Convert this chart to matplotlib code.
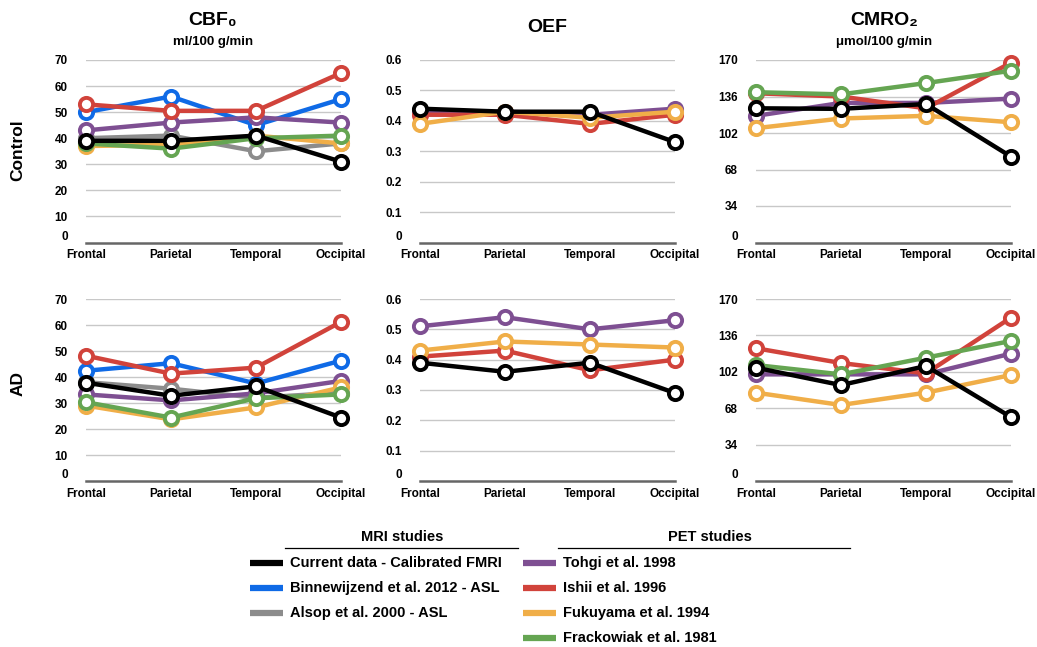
import numpy as np
import matplotlib.pyplot as plt
from matplotlib.lines import Line2D

plt.rcParams['font.family'] = ['Liberation Sans', 'DejaVu Sans']
plt.rcParams['font.weight'] = 'bold'

regions = ['Frontal', 'Parietal', 'Temporal', 'Occipital']

# series names / colours (draw order: first = bottom)
names = ['Alsop et al. 2000 - ASL', 'Binnewijzend et al. 2012 - ASL', 'Tohgi et al. 1998',
         'Ishii et al. 1996', 'Fukuyama et al. 1994', 'Frackowiak et al. 1981',
         'Current data - Calibrated FMRI']
colors = ['#8c8c8c', '#0f6ae6', '#7e4f92', '#d1433b', '#f0ae48', '#65a552', '#000000']

# CBF (ml/100 g/min)
cbf_ctrl = {
    'Alsop et al. 2000 - ASL': [40, 41, 35, 38],
    'Binnewijzend et al. 2012 - ASL': [50, 56, 45, 55],
    'Tohgi et al. 1998': [43, 46, 48, 46],
    'Ishii et al. 1996': [53, 50.5, 50.5, 65],
    'Fukuyama et al. 1994': [37, 37.5, 41, 38],
    'Frackowiak et al. 1981': [38, 36, 40, 41],
    'Current data - Calibrated FMRI': [39, 39, 41, 31],
}
cbf_ad = {
    'Alsop et al. 2000 - ASL': [38, 35.5, 32, 34],
    'Binnewijzend et al. 2012 - ASL': [42.4, 45.3, 37.5, 46.3],
    'Tohgi et al. 1998': [33.3, 31, 33.7, 38.5],
    'Ishii et al. 1996': [48.2, 41.3, 43.6, 61.2],
    'Fukuyama et al. 1994': [29, 23.7, 28.3, 36],
    'Frackowiak et al. 1981': [30.3, 24.4, 31.8, 33.3],
    'Current data - Calibrated FMRI': [37.8, 32.8, 36.4, 24.4],
}
# OEF
oef_ctrl = {
    'Tohgi et al. 1998': [0.43, 0.43, 0.42, 0.44],
    'Ishii et al. 1996': [0.42, 0.42, 0.39, 0.42],
    'Fukuyama et al. 1994': [0.39, 0.43, 0.41, 0.43],
    'Current data - Calibrated FMRI': [0.44, 0.43, 0.43, 0.33],
}
oef_ad = {
    'Tohgi et al. 1998': [0.51, 0.54, 0.50, 0.53],
    'Ishii et al. 1996': [0.41, 0.43, 0.365, 0.40],
    'Fukuyama et al. 1994': [0.43, 0.46, 0.45, 0.44],
    'Current data - Calibrated FMRI': [0.39, 0.36, 0.39, 0.29],
}
# CMRO2 (umol/100 g/min)
cmro2_ctrl = {
    'Tohgi et al. 1998': [118, 130, 130, 134],
    'Ishii et al. 1996': [139, 136, 125, 167.5],
    'Fukuyama et al. 1994': [106.5, 115.5, 118, 112],
    'Frackowiak et al. 1981': [140, 138, 148.5, 160],
    'Current data - Calibrated FMRI': [125, 124.5, 129, 80],
}
cmro2_ad = {
    'Tohgi et al. 1998': [99.6, 99.6, 99.6, 119],
    'Ishii et al. 1996': [124, 110.2, 100.5, 152.6],
    'Fukuyama et al. 1994': [82.5, 71, 82.5, 99],
    'Frackowiak et al. 1981': [108.3, 99.6, 115.2, 130.8],
    'Current data - Calibrated FMRI': [105.8, 89.6, 107.4, 59.7],
}

panels = [
    [(cbf_ctrl, 70, 10, '{:.0f}'), (oef_ctrl, 0.6, 0.1, '{:g}'), (cmro2_ctrl, 170, 34, '{:.0f}')],
    [(cbf_ad, 70, 10, '{:.0f}'), (oef_ad, 0.6, 0.1, '{:g}'), (cmro2_ad, 170, 34, '{:.0f}')],
]

fig = plt.figure(figsize=(10.37, 6.47), dpi=100)
W, H = 1037., 647.
lefts = [86, 420, 756]
width = 255
rows = [(60, 242.5), (299, 481)]

x = np.arange(len(regions))
for r, (top, bot) in enumerate(rows):
    for c, (data, ymax, step, fmt) in enumerate(panels[r]):
        ax = fig.add_axes([lefts[c] / W, 1 - bot / H, width / W, (bot - top) / H])
        ticks = np.arange(0, ymax + step / 2, step)
        for t in ticks[1:]:
            ax.axhline(t, color='#c8c8c8', lw=1.0, zorder=0)
        for name, col in zip(names, colors):
            if name not in data:
                continue
            ax.plot(x, data[name], color=col, lw=3.2, marker='o', ms=9.5,
                    mfc='white', mec=col, mew=2.8, clip_on=False, zorder=3)
        ax.set_xlim(0, 3)
        ax.set_ylim(0, ymax)
        ax.set_yticks(ticks)
        ax.set_yticklabels([fmt.format(t) for t in ticks])
        ax.set_xticks(x)
        ax.set_xticklabels(regions)
        ax.tick_params(length=0, labelsize=8.5, pad=5)
        ax.tick_params(axis='y', pad=13)
        # the "0" label sits a little higher so it clears "Frontal"
        ax.get_yticklabels()[0].set_va('bottom')
        for s in ['top', 'right', 'left']:
            ax.spines[s].set_visible(False)
        ax.spines['bottom'].set_color('#666666')
        ax.spines['bottom'].set_linewidth(1.8)

# titles
fig.text(213 / W, 1 - 21 / H, 'CBF₀', ha='center', va='center', fontsize=14, fontweight='bold')
fig.text(213 / W, 1 - 42 / H, 'ml/100 g/min', ha='center', va='center', fontsize=9.5, fontweight='bold')
fig.text(547 / W, 1 - 28 / H, 'OEF', ha='center', va='center', fontsize=14, fontweight='bold')
fig.text(884 / W, 1 - 21 / H, 'CMRO₂', ha='center', va='center', fontsize=14, fontweight='bold')
fig.text(884 / W, 1 - 42 / H, 'μmol/100 g/min', ha='center', va='center', fontsize=9.5, fontweight='bold')
fig.text(18 / W, 1 - 150 / H, 'Control', rotation=90, ha='center', va='center', fontsize=12.5, fontweight='bold')
fig.text(18 / W, 1 - 384 / H, 'AD', rotation=90, ha='center', va='center', fontsize=12.5, fontweight='bold')

# legend, two groups with underlined headers
groups = [
    ('MRI studies', 402, 285, 518, 250,
     ['Current data - Calibrated FMRI', 'Binnewijzend et al. 2012 - ASL', 'Alsop et al. 2000 - ASL']),
    ('PET studies', 710, 558, 850, 523,
     ['Tohgi et al. 1998', 'Ishii et al. 1996', 'Fukuyama et al. 1994', 'Frackowiak et al. 1981']),
]
for title, tx, ux0, ux1, sx, items in groups:
    fig.text(tx / W, 1 - 537 / H, title, ha='center', va='center', fontsize=10.5, fontweight='bold')
    fig.add_artist(Line2D([ux0 / W, ux1 / W], [1 - 548 / H] * 2, color='black', lw=0.9))
    for i, name in enumerate(items):
        yy = 1 - (563 + 25 * i) / H
        col = colors[names.index(name)]
        fig.add_artist(Line2D([sx / W, (sx + 33) / W], [yy, yy], color=col, lw=4.5,
                              solid_capstyle='butt'))
        fig.text((sx + 40) / W, yy, name, ha='left', va='center', fontsize=10.5, fontweight='bold')

fig.savefig('out.png', dpi=100)
